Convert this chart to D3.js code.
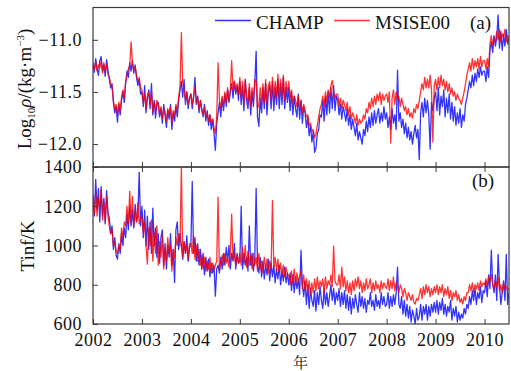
<!DOCTYPE html>
<html>
<head>
<meta charset="utf-8">
<script src="https://cdn.jsdelivr.net/npm/d3@7"></script>
<style>
  html, body { margin: 0; padding: 0; background: #fff; }
  svg { display: block; }
  text { font-family: "Liberation Serif", "Times New Roman", serif; fill: #111; }
</style>
</head>
<body>
<svg id="chart" width="511" height="371"></svg>
<script>
// Samples every ~10 days (36 per year) from 2002.0 to 2010.5
const startYear = 2002;
const samplesPerYear = 36;

// log10 density, CHAMP accelerometer (one row per year)
const champDensity = [
  -11.22,-11.31,-11.18,-11.28,-11.34,-11.20, -11.16,-11.30,-11.24,-11.35,-11.19,-11.29, -11.38,-11.46,-11.42,-11.60,-11.70,-11.64, -11.79,-11.62,-11.72,-11.58,-11.50,-11.60, -11.42,-11.30,-11.36,-11.22,-11.30,-11.20, -11.32,-11.24,-11.36,-11.44,-11.38,-11.52,
  -11.50,-11.64,-11.44,-11.70,-11.56,-11.48, -11.66,-11.42,-11.72,-11.58,-11.75,-11.62, -11.60,-11.74,-11.66,-11.80,-11.62,-11.72, -11.84,-11.68,-11.76,-11.62,-11.86,-11.70, -11.78,-11.64,-11.74,-11.58,-11.48,-11.40, -11.55,-11.38,-11.62,-11.50,-11.66,-11.56,
  -11.52,-11.66,-11.56,-11.36,-11.62,-11.54, -11.70,-11.58,-11.66,-11.74,-11.62,-11.78, -11.68,-11.82,-11.72,-11.86,-11.76,-11.90, -12.06,-11.80,-11.70,-11.60,-11.74,-11.56, -11.68,-11.52,-11.64,-11.48,-11.60,-11.50, -11.42,-11.56,-11.40,-11.52,-11.44,-11.58,
  -11.40,-11.62,-11.44,-11.68,-11.38,-11.58, -11.66,-11.46,-11.72,-11.50,-11.64,-11.42, -11.11,-11.74,-11.83,-11.56,-11.70,-11.46, -11.66,-11.42,-11.72,-11.50,-11.44,-11.66, -11.40,-11.68,-11.46,-11.62,-11.38,-11.66, -11.42,-11.62,-11.36,-11.66,-11.46,-11.60,
  -11.46,-11.68,-11.50,-11.72,-11.54,-11.66, -11.74,-11.52,-11.76,-11.58,-11.80,-11.64, -11.70,-11.84,-11.74,-11.92,-11.82,-11.98, -11.88,-12.08,-12.04,-11.90,-11.86,-11.72, -11.74,-11.58,-11.78,-11.54,-11.72,-11.50, -11.70,-11.46,-11.66,-11.44,-11.68,-11.54,
  -11.58,-11.72,-11.62,-11.76,-11.64,-11.70, -11.78,-11.66,-11.82,-11.72,-11.86,-11.76, -11.84,-11.92,-11.80,-11.96,-11.88,-11.94, -12.00,-11.86,-11.92,-11.78,-11.88,-11.74, -11.84,-11.70,-11.82,-11.68,-11.80,-11.72, -11.66,-11.80,-11.70,-11.78,-11.64,-11.76,
  -11.70,-11.84,-11.74,-11.86,-11.66,-11.80, -11.72,-11.86,-11.29,-11.78,-11.70,-11.84, -11.76,-11.90,-11.80,-11.94,-11.84,-11.96, -11.88,-12.00,-11.90,-11.82,-11.94,-11.86, -12.15,-11.70,-11.60,-11.74,-11.56,-11.70, -11.58,-11.72,-12.05,-11.60,-11.68,-11.56,
  -11.50,-11.68,-11.46,-11.72,-11.54,-11.64, -11.48,-11.74,-11.56,-11.70,-11.52,-11.76, -11.60,-11.78,-11.64,-11.82,-11.70,-11.80, -11.66,-11.84,-11.72,-11.78,-11.62,-11.56, -11.48,-11.40,-11.46,-11.34,-11.44,-11.32, -11.40,-11.28,-11.36,-11.26,-11.34,-11.30,
  -11.30,-11.40,-11.26,-11.36,-11.10,-11.02,-11.12,-10.96,-11.06,-10.98,-10.76,-11.08,-10.92,-11.10,-10.95,-11.06,-10.90,-11.04,-10.98
];

// log10 density, MSISE00 model
const msisDensity = [
  -11.26,-11.28,-11.21,-11.30,-11.24,-11.27, -11.20,-11.32,-11.22,-11.30,-11.24,-11.33, -11.36,-11.42,-11.46,-11.58,-11.66,-11.62, -11.72,-11.60,-11.68,-11.55,-11.48,-11.56, -11.40,-11.34,-11.28,-11.25,-11.02,-11.22, -11.30,-11.26,-11.34,-11.40,-11.36,-11.46,
  -11.48,-11.60,-11.52,-11.66,-11.54,-11.50, -11.62,-11.50,-11.70,-11.60,-11.68,-11.58, -11.62,-11.72,-11.64,-11.76,-11.66,-11.70, -11.78,-11.66,-11.72,-11.64,-11.80,-11.68, -11.72,-11.62,-11.68,-11.55,-11.45,-10.93, -11.42,-11.48,-11.58,-11.50,-11.62,-11.56,
  -11.52,-11.62,-11.54,-11.45,-11.60,-11.56, -11.66,-11.58,-11.68,-11.72,-11.64,-11.74, -11.70,-11.78,-11.72,-11.80,-11.76,-11.84, -11.90,-11.74,-11.22,-11.58,-11.66,-11.54, -11.64,-11.50,-11.60,-11.46,-11.58,-11.48, -11.20,-11.48,-11.40,-11.50,-11.42,-11.52,
  -11.36,-11.56,-11.40,-11.62,-11.38,-11.54, -11.60,-11.42,-11.64,-11.46,-11.58,-11.38, -11.40,-11.66,-11.62,-11.46,-11.62,-11.42, -11.60,-11.38,-11.62,-11.44,-11.40,-11.58, -11.36,-11.58,-11.40,-11.54,-11.33,-11.56, -11.38,-11.54,-11.34,-11.58,-11.40,-11.52,
  -11.40,-11.56,-11.48,-11.62,-11.54,-11.58, -11.64,-11.54,-11.66,-11.58,-11.70,-11.62, -11.68,-11.74,-11.72,-11.82,-11.80,-11.88, -11.86,-11.94,-11.90,-11.82,-11.74,-11.66, -11.62,-11.54,-11.64,-11.50,-11.60,-11.48, -11.56,-11.44,-11.39,-11.50,-11.56,-11.52,
  -11.52,-11.64,-11.56,-11.66,-11.58,-11.62, -11.68,-11.60,-11.72,-11.64,-11.76,-11.70, -11.74,-11.80,-11.72,-11.82,-11.76,-11.80, -11.78,-11.72,-11.76,-11.66,-11.70,-11.60, -11.66,-11.56,-11.64,-11.54,-11.62,-11.52, -11.58,-11.50,-11.62,-11.52,-11.58,-11.54,
  -11.52,-11.60,-11.50,-11.99,-11.56,-11.48, -11.62,-11.50,-11.58,-11.54,-11.64,-11.56, -11.62,-11.68,-11.64,-11.72,-11.66,-11.74, -11.70,-11.75,-11.66,-11.70,-11.62,-11.66, -11.58,-11.50,-11.42,-11.48,-11.36,-11.46, -11.38,-11.46,-11.34,-11.48,-11.98,-11.44,
  -11.38,-11.48,-11.36,-11.46,-11.34,-11.44, -11.38,-11.48,-11.40,-11.50,-11.42,-11.52, -11.46,-11.54,-11.50,-11.58,-11.52,-11.56, -11.58,-11.62,-11.56,-11.50,-11.42,-11.34, -11.28,-11.22,-11.30,-11.18,-11.28,-11.20, -11.26,-11.18,-11.28,-11.16,-11.26,-11.20,
  -11.20,-11.28,-11.18,-11.26,-11.04,-10.96,-11.05,-10.98,-11.02,-10.92,-11.00,-10.90,-11.02,-10.94,-10.98,-10.90,-11.02,-10.96,-10.98
];

// exospheric temperature (K), CHAMP
const champTinf = [
  1260,1150,1337,1180,1290,1120, 1300,1150,1240,1110,1280,1170, 1140,1060,1100,980,1040,950, 930,1010,960,1060,1000,1090, 1040,1160,1080,1200,1100,1180, 1090,1210,1120,1150,1373,1100,
  1200,1040,1180,1000,1150,980, 1120,960,1190,1000,1090,940, 1060,910,1040,1080,900,1010, 880,1000,940,1060,900,980, 812,1080,1120,980,1060,1000, 930,1020,960,1050,920,990,
  1000,1327,960,1040,920,1010, 900,980,880,960,850,940, 870,930,840,910,860,900, 742,880,900,860,940,880, 960,900,990,920,1000,880, 960,920,1010,880,960,910,
  920,1200,880,960,900,940, 870,1100,900,960,870,930, 1291,900,860,940,840,920, 830,900,850,930,820,910, 840,900,810,880,830,900, 800,870,820,890,810,860,
  800,860,770,850,760,840, 780,830,750,976,800,740, 820,700,800,680,780,720, 690,770,666,760,700,790, 720,680,780,700,760,690, 740,800,720,780,700,760,
  720,780,690,760,700,770, 680,750,670,740,651,730, 680,750,700,660,760,690, 740,680,730,660,720,700, 760,690,720,670,750,690, 720,680,760,700,740,690,
  700,760,680,740,690,750, 700,760,890,700,680,740, 650,720,640,700,630,690, 610,670,640,600,680,620, 640,700,620,690,650,700, 620,690,640,700,660,710,
  660,720,650,710,670,730, 650,700,640,690,660,720, 620,680,640,690,610,660, 620,650,630,680,650,700, 680,740,700,770,720,780, 700,760,730,790,710,770,
  760,820,740,850,780,976,800,760,850,720,955,800,700,760,820,720,955,700,760
];

// exospheric temperature (K), MSISE00
const msisTinf = [
  1230,1160,1270,1150,1240,1190, 1290,1130,1220,1120,1250,1150, 1100,1060,1080,1000,1020,970, 960,1000,980,1090,1040,1120, 1100,1200,1110,1276,1120,1250, 1100,1180,1120,1220,1110,1140,
  1150,1060,1120,1000,905,1090, 1000,1130,920,1060,960,1100, 900,1020,940,1050,880,990, 920,1040,960,1000,870,980, 940,1040,1000,1060,1000,1403, 940,1020,960,1000,930,1010,
  1010,960,1050,930,1000,920, 980,900,950,880,940,870, 920,880,940,860,910,880, 900,920,1246,870,920,950, 900,960,910,940,890,960, 1160,930,960,900,950,910,
  960,900,990,910,1000,890, 970,900,950,880,960,900, 940,870,960,880,920,860, 940,880,930,860,920,880, 1230,890,940,870,930,860, 910,850,900,840,890,850,
  850,800,870,810,880,800, 860,820,840,870,780,850, 770,830,760,820,750,810, 760,830,770,840,780,820, 790,830,760,840,780,820, 800,850,790,997,820,800,
  800,850,780,890,790,840, 770,820,760,810,750,820, 770,830,790,840,780,820, 760,810,770,830,780,800, 830,760,810,770,820,780, 800,760,820,780,810,790,
  780,830,770,820,780,840, 770,810,790,760,800,780, 740,780,760,720,760,740, 720,750,710,702,730,720, 750,780,730,790,750,800, 760,790,740,780,750,790,
  760,800,750,790,760,800, 740,780,750,790,730,770, 720,760,740,770,720,750, 710,730,702,740,720,760, 760,800,770,810,760,800, 780,810,770,820,790,810,
  800,830,790,840,820,850,800,780,820,790,840,770,800,760,810,780,790,770,780
];

const yearTicks = [2002, 2003, 2004, 2005, 2006, 2007, 2008, 2009, 2010];
const densityTicks = [-12.0, -11.5, -11.0];
const tinfTicks = [600, 800, 1000, 1200, 1400];
const seriesNames = ["CHAMP", "MSISE00"];
const seriesColors = ["#0000ff", "#ff0000"];

const svg = d3.select("#chart");
const frameColor = "#3a3a3a";
const left = 93, right = 509;
const topA = 7.5, bottomA = 167;
const topB = 167, bottomB = 324;

const x = d3.scaleLinear().domain([2002, 2010.5]).range([left, right]);
const yA = d3.scaleLinear().domain([-12.22, -10.69]).range([bottomA, topA]);
const yB = d3.scaleLinear().domain([600, 1400]).range([bottomB, topB]);

const t = (d, i) => startYear + i / samplesPerYear;

// clip regions for each panel
const defs = svg.append("defs");
defs.append("clipPath").attr("id", "clipA").append("rect")
  .attr("x", left).attr("y", topA).attr("width", right - left).attr("height", bottomA - topA);
defs.append("clipPath").attr("id", "clipB").append("rect")
  .attr("x", left).attr("y", topB).attr("width", right - left).attr("height", bottomB - topB);

function drawSeries(clipId, yScale, series) {
  const g = svg.append("g").attr("clip-path", `url(#${clipId})`);
  series.forEach((vals, k) => {
    const line = d3.line().x((d, i) => x(t(d, i))).y(d => yScale(d));
    g.append("path").datum(vals)
      .attr("d", line)
      .attr("fill", "none")
      .attr("stroke", seriesColors[k])
      .attr("stroke-width", 1.3)
      .attr("stroke-opacity", 0.8)
      .attr("stroke-linejoin", "round");
  });
}

drawSeries("clipA", yA, [champDensity, msisDensity]);
drawSeries("clipB", yB, [champTinf, msisTinf]);

function styleAxis(g) {
  g.select(".domain").remove();
  g.selectAll(".tick line").attr("stroke", frameColor).attr("stroke-width", 1);
  g.selectAll(".tick text")
    .attr("font-family", '"Liberation Serif", "Times New Roman", serif')
    .attr("font-size", 18).attr("fill", "#111").attr("letter-spacing", 0.5);
}

// panel (a) axes
svg.append("g").attr("transform", `translate(${left},0)`)
  .call(d3.axisLeft(yA).tickValues(densityTicks).tickSize(-5).tickPadding(11).tickFormat(d3.format(".1f")))
  .call(styleAxis);
svg.append("g").attr("transform", `translate(0,${bottomA})`)
  .call(d3.axisBottom(x).tickValues(yearTicks).tickSize(-5).tickFormat(""))
  .call(styleAxis);

// panel (b) axes
svg.append("g").attr("transform", `translate(${left},0)`)
  .call(d3.axisLeft(yB).tickValues(tinfTicks).tickSize(-5).tickPadding(11).tickFormat(d3.format("d")))
  .call(styleAxis);
svg.append("g").attr("transform", `translate(0,${topB})`)
  .call(d3.axisTop(x).tickValues(yearTicks).tickSize(-5).tickFormat(""))
  .call(styleAxis);
svg.append("g").attr("transform", `translate(0,${bottomB})`)
  .call(d3.axisBottom(x).tickValues(yearTicks).tickSize(-5).tickPadding(9.5).tickFormat(d3.format("d")))
  .call(styleAxis);

// frames
[[topA, bottomA], [topB, bottomB]].forEach(([y0, y1]) => {
  svg.append("rect").attr("x", left).attr("y", y0)
    .attr("width", right - left).attr("height", y1 - y0)
    .attr("fill", "none").attr("stroke", frameColor).attr("stroke-width", 1.2);
});

// axis titles
const yTitleA = svg.append("text")
  .attr("transform", "translate(30.5,89) rotate(-90)")
  .attr("text-anchor", "middle").attr("font-size", 19);
yTitleA.append("tspan").text("Log");
yTitleA.append("tspan").attr("font-size", 11).attr("dy", 4).text("10");
yTitleA.append("tspan").attr("dy", -4).attr("font-style", "italic").text("ρ");
yTitleA.append("tspan").text("/(kg·m");
yTitleA.append("tspan").attr("font-size", 11).attr("dy", -7).text("−3");
yTitleA.append("tspan").attr("dy", 7).text(")");

svg.append("text")
  .attr("transform", "translate(34,246) rotate(-90)")
  .attr("text-anchor", "middle").attr("font-size", 19).text("Tinf/K");

svg.append("text").attr("x", 300.5).attr("y", 368)
  .attr("text-anchor", "middle").attr("font-size", 15)
  .style("font-family", '"Noto Serif CJK SC", "Noto Sans CJK SC", sans-serif')
  .text("年");

// legend
const legendX = [215, 334];
seriesNames.forEach((name, k) => {
  svg.append("line")
    .attr("x1", legendX[k]).attr("x2", legendX[k] + 36)
    .attr("y1", 20.5).attr("y2", 20.5)
    .attr("stroke", seriesColors[k]).attr("stroke-opacity", 0.8).attr("stroke-width", 1.3);
  svg.append("text").attr("x", legendX[k] + 41).attr("y", 29)
    .attr("font-size", 19).text(name);
});

// panel labels
svg.append("text").attr("x", 470).attr("y", 29).attr("font-size", 19).text("(a)");
svg.append("text").attr("x", 472).attr("y", 187).attr("font-size", 19).text("(b)");
</script>
</body>
</html>
